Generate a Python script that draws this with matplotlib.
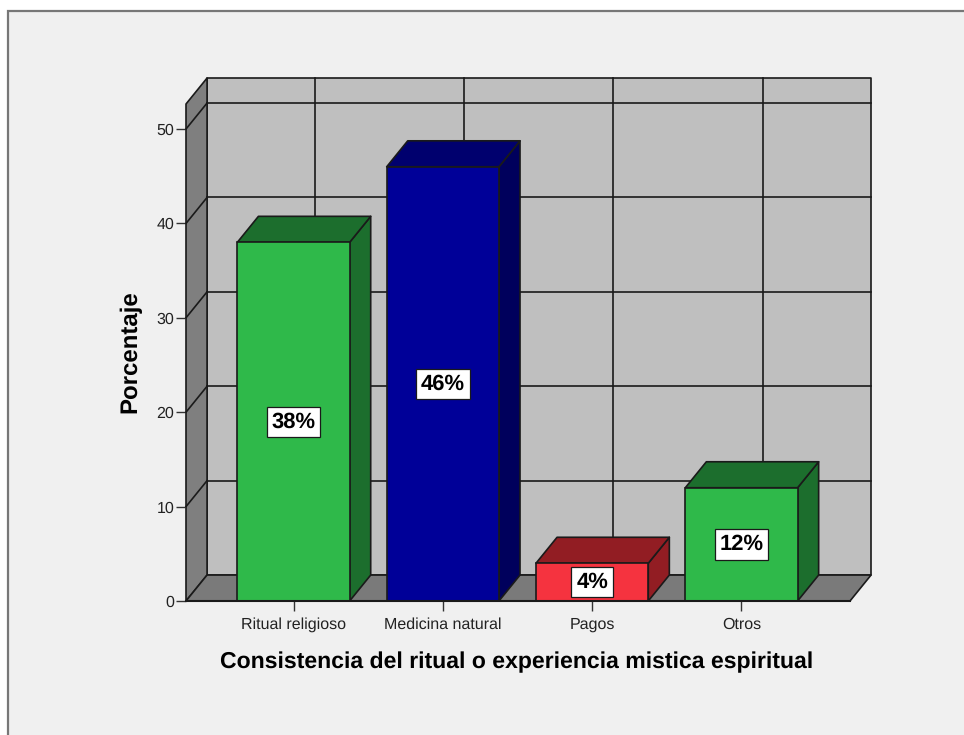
import matplotlib
matplotlib.use("Agg")
import matplotlib.pyplot as plt
from matplotlib.patches import Polygon, Rectangle

categories = ["Ritual religioso", "Medicina natural", "Pagos", "Otros"]
values = [38, 46, 4, 12]
labels = ["38%", "46%", "4%", "12%"]
yticks = [0, 10, 20, 30, 40, 50]
front_colors = ["#2FB94A", "#000098", "#F5333F", "#2FB94A"]
top_colors = ["#1C6E2D", "#00006E", "#921D23", "#1C6E2D"]
side_colors = ["#1C6E2D", "#00005C", "#921D23", "#1C6E2D"]

plt.rcParams["font.family"] = ["Liberation Sans", "DejaVu Sans"]
plt.rcParams["text.hinting"] = "none"
plt.rcParams["text.hinting_factor"] = 1

W, H = 964, 735
fig = plt.figure(figsize=(W / 100, H / 100), dpi=100, facecolor="white")

# page background with the grey frame, it runs off the right and bottom edge
fig.add_artist(Rectangle((8 / W, -0.05), 1.0, 1.05 - 11 / H, transform=fig.transFigure,
                         facecolor="#F0F0F0", edgecolor="#777777", linewidth=1.6, zorder=-1))

ax = fig.add_axes([186 / W, (H - 601) / H, (850 - 186) / W, (601 - 104) / H])
ax.patch.set_visible(False)
xmin, xmax = -0.72, 3.727
ymax = 52.65
ax.set_xlim(xmin, xmax)
ax.set_ylim(0, ymax)
for s in ax.spines.values():
    s.set_visible(False)

# depth of the fake 3d box, in data units
dx = 0.141
dy = 2.75
bar_w = 0.752
lw = 1.2
edge = "#1A1A1A"


def poly(points, color, z):
    ax.add_patch(Polygon(points, closed=True, facecolor=color, edgecolor=edge,
                         linewidth=lw, zorder=z, clip_on=False, joinstyle="round"))


# back wall, left wall, floor
poly([(xmin + dx, dy), (xmax + dx, dy), (xmax + dx, ymax + dy), (xmin + dx, ymax + dy)], "#BFBFBF", 1)
poly([(xmin, 0), (xmin + dx, dy), (xmin + dx, ymax + dy), (xmin, ymax)], "#7F7F7F", 1)
poly([(xmin, 0), (xmax, 0), (xmax + dx, dy), (xmin + dx, dy)], "#7A7A7A", 1)

# grid on the walls
for y in yticks[1:]:
    ax.plot([xmin + dx, xmax + dx], [y + dy, y + dy], color=edge, lw=lw, zorder=2, clip_on=False)
    ax.plot([xmin, xmin + dx], [y, y + dy], color=edge, lw=lw, zorder=2, clip_on=False)
for i in range(len(categories)):
    ax.plot([i + dx, i + dx], [dy, ymax + dy], color=edge, lw=lw, zorder=2, clip_on=False)

# bars
for i, v in enumerate(values):
    x0 = i - bar_w / 2
    x1 = i + bar_w / 2
    poly([(x1, 0), (x1 + dx, dy), (x1 + dx, v + dy), (x1, v)], side_colors[i], 3)
    poly([(x0, v), (x1, v), (x1 + dx, v + dy), (x0 + dx, v + dy)], top_colors[i], 3)
    ax.bar(i, v, width=bar_w, color=front_colors[i], edgecolor=edge, linewidth=lw, zorder=4)
    ax.text(i, v / 2, labels[i], ha="center", va="center", fontsize=16, fontweight="bold",
            color="black", zorder=5,
            bbox=dict(boxstyle="square,pad=0.22", facecolor="white", edgecolor=edge, linewidth=0.9))

ax.plot([xmin, xmax], [0, 0], color=edge, lw=1.5, zorder=6, clip_on=False)

ax.set_xticks(range(len(categories)))
ax.set_xticklabels(categories)
ax.set_yticks(yticks)
ax.tick_params(axis="both", length=7.5, width=1, color="#333333", labelsize=11.8, labelcolor="#222222")
ax.tick_params(axis="x", pad=4)
ax.tick_params(axis="y", pad=1)

ax.set_xlabel("Consistencia del ritual o experiencia mistica espiritual",
              fontsize=16.8, fontweight="bold", color="black")
ax.xaxis.set_label_coords((517 - 186) / (850 - 186), (601 - 662) / (601 - 104), transform=ax.transAxes)
ax.xaxis.label.set_va("center")
ax.set_ylabel("Porcentaje", fontsize=17.2, fontweight="bold", color="black")
ax.yaxis.set_label_coords((130 - 186) / (850 - 186), (601 - 352) / (601 - 104), transform=ax.transAxes)
ax.yaxis.label.set_va("center")

fig.savefig("out.png", dpi=100, facecolor=fig.get_facecolor())
